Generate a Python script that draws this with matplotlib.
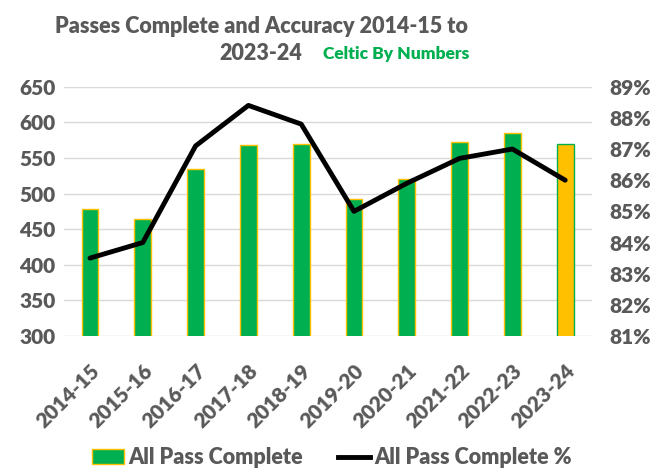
import matplotlib
matplotlib.use("Agg")
import matplotlib.pyplot as plt
from matplotlib.patches import Patch
from matplotlib.lines import Line2D
import numpy as np

seasons = ["2014-15", "2015-16", "2016-17", "2017-18", "2018-19",
           "2019-20", "2020-21", "2021-22", "2022-23", "2023-24"]
passes_complete = [478, 464, 535, 568, 569, 493, 520, 572, 585, 569]
pass_pct = [83.5, 84.0, 87.1, 88.4, 87.8, 85.0, 85.9, 86.7, 87.0, 86.0]

left_ticks = [300, 350, 400, 450, 500, 550, 600, 650]
right_ticks = [81, 82, 83, 84, 85, 86, 87, 88, 89]

GREEN = "#00B050"
GOLD = "#FFC000"
GREY = "#595959"
FONT = ["Lato", "DejaVu Sans"]

plt.rcParams["font.family"] = FONT

fig = plt.figure(figsize=(6.61, 4.73), dpi=100)
ax = fig.add_axes([0.0962, 0.2896, 0.7988, 0.5271])
ax2 = ax.twinx()

x = np.arange(len(seasons))
faces = [GREEN] * (len(seasons) - 1) + [GOLD]
edges = [GOLD] * (len(seasons) - 1) + [GREEN]
ax.bar(x, passes_complete, width=0.32, color=faces, edgecolor=edges, linewidth=1.0, zorder=2)
ax.set_ylim(300, 650)
ax.set_yticks(left_ticks)
ax.set_xlim(-0.5, len(seasons) - 0.5)
ax.grid(axis="y", color="#D9D9D9", linewidth=1.0, zorder=0)
ax.set_axisbelow(True)

ax2.plot(x, pass_pct, color="black", linewidth=3.5, zorder=3, solid_capstyle="round")
ax2.set_ylim(81, 89)
ax2.set_yticks(right_ticks)
ax2.set_yticklabels([f"{t}%" for t in right_ticks])

for a in (ax, ax2):
    for s in a.spines.values():
        s.set_visible(False)
    a.tick_params(length=0, labelsize=15, labelcolor=GREY)
    for lab in a.get_yticklabels():
        lab.set_fontweight("heavy")

ax.tick_params(axis="y", pad=6)
ax2.tick_params(axis="y", pad=13)
ax.set_xticks(x)
ax.set_xticklabels(seasons, rotation=45, ha="right", rotation_mode="anchor",
                   fontsize=15, fontweight="heavy", color=GREY)
ax.tick_params(axis="x", pad=18)

fig.text(0.395, 0.945, "Passes Complete and Accuracy 2014-15 to", ha="center", va="center",
         fontsize=15.5, fontweight="heavy", color=GREY)
fig.text(0.395, 0.886, "2023-24", ha="center", va="center",
         fontsize=15.5, fontweight="heavy", color=GREY)
fig.text(0.599, 0.886, "Celtic By Numbers", ha="center", va="center",
         fontsize=12.5, fontweight="heavy", color=GREEN)

handles = [Patch(facecolor=GREEN, edgecolor=GOLD, linewidth=1.0),
           Line2D([0], [0], color="black", linewidth=3.5)]
fig.legend(handles, ["All Pass Complete", "All Pass Complete %"],
           loc="center", bbox_to_anchor=(0.502, 0.032), ncol=2, frameon=False,
           prop={"family": FONT, "weight": "heavy", "size": 15.5},
           labelcolor=GREY, handlelength=1.5, handletextpad=0.2, columnspacing=1.6)

fig.savefig("out.png", dpi=100)
